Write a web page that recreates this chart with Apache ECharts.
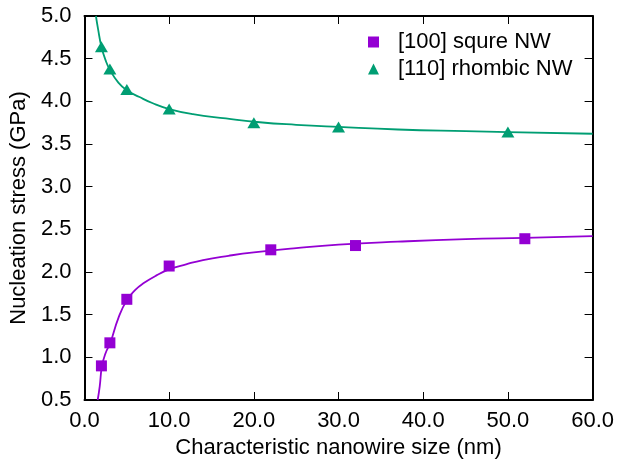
<!DOCTYPE html>
<html>
<head>
<meta charset="utf-8">
<script src="https://cdn.jsdelivr.net/npm/echarts@6/dist/echarts.min.js"></script>
<style>
  html, body { margin: 0; padding: 0; background: #fff; }
  #chart { width: 617px; height: 464px; }
</style>
</head>
<body>
<div id="chart"></div>
<script>
// measured points
const squareX = [2, 3, 5, 10, 22, 32, 52];
const squareY = [0.9, 1.17, 1.68, 2.07, 2.26, 2.31, 2.39];
const triangleX = [2, 3, 5, 10, 20, 30, 50];
const triangleY = [4.64, 4.38, 4.14, 3.91, 3.75, 3.70, 3.64];

// fitted curves
const squareFitX = [1.56, 1.8, 2.07, 2.5, 3.05, 4, 5, 6, 7, 8.5, 10, 12, 14, 17, 20, 25, 30, 37, 45, 52, 60];
const squareFitY = [0.5, 0.66, 0.9, 1.05, 1.17, 1.46, 1.67, 1.79, 1.87, 1.96, 2.03, 2.09, 2.14, 2.19, 2.23, 2.28, 2.32, 2.355, 2.385, 2.40, 2.42];
const triangleFitX = [1.35, 1.6, 2, 2.5, 3, 4, 5, 6.5, 8, 10, 12.8, 16.7, 20.7, 25, 30, 37, 45, 50, 60];
const triangleFitY = [5.0, 4.85, 4.64, 4.48, 4.37, 4.22, 4.13, 4.05, 3.98, 3.91, 3.85, 3.80, 3.755, 3.725, 3.70, 3.67, 3.65, 3.64, 3.62];

const xTicks = { min: 0, max: 60, interval: 10 };
const yTicks = { min: 0.5, max: 5.0, interval: 0.5 };

const purple = "#9400D3";
const green = "#009E73";
const font = "Liberation Sans";
const fs = 22;

const zip = (xs, ys) => xs.map((x, i) => [x, ys[i]]);

const chart = echarts.init(document.getElementById("chart"));

const baseX = {
  type: "value",
  min: xTicks.min,
  max: xTicks.max,
  interval: xTicks.interval,
  axisLine: { show: true, onZero: false, lineStyle: { color: "#000", width: 2 } },
  axisTick: { show: true, inside: true, length: 8, lineStyle: { color: "#000", width: 1 } },
  splitLine: { show: false },
};
const baseY = {
  type: "value",
  min: yTicks.min,
  max: yTicks.max,
  interval: yTicks.interval,
  axisLine: { show: true, onZero: false, lineStyle: { color: "#000", width: 2 } },
  axisTick: { show: true, inside: true, length: 8, lineStyle: { color: "#000", width: 1 } },
  splitLine: { show: false },
};

chart.setOption({
  animation: false,
  textStyle: { fontFamily: font },
  grid: { left: 84, right: 22, top: 16, bottom: 64 },
  legend: {
    orient: "vertical",
    left: 363,
    top: 26,
    itemWidth: 11,
    itemHeight: 11,
    itemGap: 5,
    textStyle: { fontFamily: font, fontSize: fs, color: "#000", padding: [0, 0, 0, 14] },
    data: [
      { name: "[100] squre NW", icon: "rect", itemStyle: { color: purple, opacity: 1 } },
      { name: "[110] rhombic NW", icon: "triangle", itemStyle: { color: green, opacity: 1 } },
    ],
  },
  xAxis: [
    {
      ...baseX,
      position: "bottom",
      axisLabel: { color: "#000", fontSize: fs, margin: 10, formatter: (v) => v.toFixed(1) },
      name: "Characteristic nanowire size (nm)",
      nameLocation: "middle",
      nameGap: 36,
      nameTextStyle: { color: "#000", fontSize: fs },
    },
    { ...baseX, position: "top", axisLabel: { show: false } },
  ],
  yAxis: [
    {
      ...baseY,
      position: "left",
      axisLabel: { color: "#000", fontSize: fs, margin: 13, formatter: (v) => v.toFixed(1) },
      name: "Nucleation stress (GPa)",
      nameLocation: "middle",
      nameGap: 51,
      nameTextStyle: { color: "#000", fontSize: fs },
    },
    { ...baseY, position: "right", axisLabel: { show: false } },
  ],
  series: [
    {
      name: "[100] squre NW fit",
      type: "line",
      data: zip(squareFitX, squareFitY),
      smooth: 0.5,
      showSymbol: false,
      lineStyle: { color: purple, width: 1.8 },
      z: 2,
    },
    {
      name: "[110] rhombic NW fit",
      type: "line",
      data: zip(triangleFitX, triangleFitY),
      smooth: 0.5,
      showSymbol: false,
      lineStyle: { color: green, width: 1.8 },
      z: 2,
    },
    {
      name: "[100] squre NW",
      type: "scatter",
      data: zip(squareX, squareY),
      symbol: "rect",
      symbolSize: 11,
      itemStyle: { color: purple, opacity: 1 },
      z: 3,
    },
    {
      name: "[110] rhombic NW",
      type: "scatter",
      data: zip(triangleX, triangleY),
      symbol: "triangle",
      symbolSize: [13, 11],
      itemStyle: { color: green, opacity: 1 },
      z: 3,
    },
  ],
});
</script>
</body>
</html>
